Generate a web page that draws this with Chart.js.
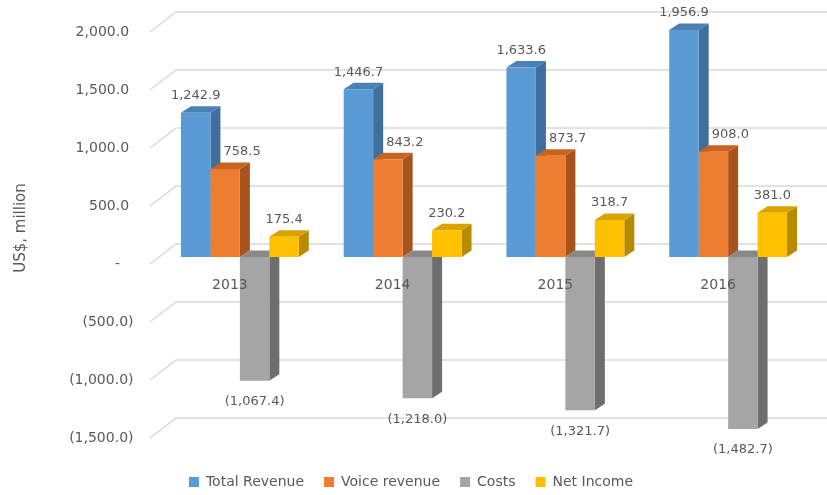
<!DOCTYPE html>
<html>
<head>
<meta charset="utf-8">
<script src="https://cdn.jsdelivr.net/npm/chart.js@4/dist/chart.umd.min.js"></script>
<style>
  html, body { margin: 0; padding: 0; background: #fff; }
  #wrap { width: 827px; height: 495px; }
</style>
</head>
<body>
<div id="wrap"><canvas id="bar"></canvas></div>
<script>
const years = ['2013', '2014', '2015', '2016'];
const totalRevenue = [1242.9, 1446.7, 1633.6, 1956.9];
const voiceRevenue = [758.5, 843.2, 873.7, 908.0];
const costs = [-1067.4, -1218.0, -1321.7, -1482.7];
const netIncome = [175.4, 230.2, 318.7, 381.0];
const yTicks = [-1500, -1000, -500, 0, 500, 1000, 1500, 2000];

// excel accounting style: negatives in brackets, zero as a dash
function num(v) {
  return Math.abs(v).toLocaleString('en-US', { minimumFractionDigits: 1, maximumFractionDigits: 1 });
}
function axisLabel(v) {
  if (v === 0) return '-   ';
  return v < 0 ? '(' + num(v) + ')' : num(v) + ' ';
}
function dataLabel(v) {
  return v < 0 ? '(' + num(v) + ')' : num(v);
}

const DX = 10, DY = -6.5;

function poly(ctx, pts) {
  ctx.beginPath();
  ctx.moveTo(pts[0][0], pts[0][1]);
  for (let i = 1; i < pts.length; i++) ctx.lineTo(pts[i][0], pts[i][1]);
  ctx.closePath();
  ctx.fill();
}

// back wall + left wall grid lines
const backWall = {
  id: 'backWall',
  beforeDatasetsDraw(chart) {
    const { ctx, chartArea, scales: { y } } = chart;
    const fx = chartArea.left - 8.5, bx = chartArea.left + 17.5;
    ctx.save();
    ctx.strokeStyle = '#d9d9d9';
    ctx.lineWidth = 1.5;
    y.ticks.forEach(t => {
      const py = y.getPixelForValue(t.value);
      ctx.beginPath();
      ctx.moveTo(fx, py + 7);
      ctx.lineTo(bx, py - 13);
      ctx.lineTo(chart.width, py - 13);
      ctx.stroke();
    });
    ctx.restore();
  }
};

// side and top faces of every bar, drawn left to right before the fronts
const barDepth = {
  id: 'barDepth',
  beforeDatasetsDraw(chart) {
    const ctx = chart.ctx;
    ctx.save();
    chart.data.datasets.forEach((ds, i) => {
      chart.getDatasetMeta(i).data.forEach(bar => {
        const { x, y, base, width } = bar.getProps(['x', 'y', 'base', 'width'], true);
        const l = x - width / 2, r = x + width / 2;
        const t = Math.min(y, base), b = Math.max(y, base);
        ctx.fillStyle = ds.sideColor;
        poly(ctx, [[r, t], [r + DX, t + DY], [r + DX, b + DY], [r, b]]);
        ctx.fillStyle = ds.topColor;
        poly(ctx, [[l, t], [l + DX, t + DY], [r + DX, t + DY], [r, t]]);
      });
    });
    ctx.restore();
  }
};

const valueLabels = {
  id: 'valueLabels',
  afterDatasetsDraw(chart) {
    const { ctx, scales: { x, y } } = chart;
    ctx.save();
    ctx.fillStyle = '#595959';
    ctx.textAlign = 'center';
    ctx.textBaseline = 'middle';
    ctx.font = '13px "DejaVu Sans"';
    chart.data.datasets.forEach((ds, i) => {
      chart.getDatasetMeta(i).data.forEach((bar, j) => {
        const v = ds.data[j];
        const p = bar.getProps(['x', 'y'], true);
        const ly = v < 0 ? p.y + 21 : p.y - 17;
        ctx.fillText(dataLabel(v), p.x + (ds.labelShift || 0), ly);
      });
    });
    // category labels sit just under the zero line, over the bars
    ctx.font = '14px "DejaVu Sans"';
    const y0 = y.getPixelForValue(0);
    years.forEach((yr, i) => {
      ctx.fillText(yr, x.getPixelForValue(i) - 10, y0 + 28);
    });
    ctx.restore();
  }
};

Chart.defaults.font.family = '"DejaVu Sans"';
Chart.defaults.color = '#595959';

new Chart(document.getElementById('bar'), {
  type: 'bar',
  data: {
    labels: years,
    datasets: [
      { label: 'Total Revenue', data: totalRevenue, backgroundColor: '#5b9bd5', sideColor: '#3e6f9e', topColor: '#4a80b4' },
      { label: 'Voice revenue', data: voiceRevenue, backgroundColor: '#ed7d31', sideColor: '#a9531c', topColor: '#c8641f', labelShift: 17 },
      { label: 'Costs', data: costs, backgroundColor: '#a5a5a5', sideColor: '#6e6e6e', topColor: '#888888' },
      { label: 'Net Income', data: netIncome, backgroundColor: '#ffc000', sideColor: '#b88a00', topColor: '#d9a400' }
    ]
  },
  options: {
    responsive: true,
    maintainAspectRatio: false,
    animation: false,
    devicePixelRatio: 1,
    layout: { padding: { top: 25, left: 12.5, right: 17.5, bottom: -4 } },
    datasets: { bar: { categoryPercentage: 0.724, barPercentage: 1, borderWidth: 0 } },
    scales: {
      x: {
        display: false
      },
      y: {
        min: -1500,
        max: 2000,
        grid: { display: false, drawTicks: false },
        border: { display: false },
        afterBuildTicks: s => { s.ticks = yTicks.map(v => ({ value: v })); },
        afterFit: s => { s.width = 146; s.paddingTop = 0; s.paddingBottom = 0; },
        ticks: { padding: 25, labelOffset: 7, font: { size: 14 }, color: '#595959', callback: v => axisLabel(v) },
        title: { display: true, text: 'US$, million', font: { size: 15 }, color: '#595959', padding: { top: 0, bottom: 0 } }
      }
    },
    plugins: {
      tooltip: { enabled: false },
      legend: {
        position: 'bottom',
        title: { display: true, text: ' ', padding: 0, font: { size: 24, lineHeight: 1 } },
        labels: {
          boxWidth: 10,
          boxHeight: 10,
          padding: 20,
          font: { size: 14 },
          color: '#595959'
        }
      }
    }
  },
  plugins: [backWall, barDepth, valueLabels]
});
</script>
</body>
</html>
